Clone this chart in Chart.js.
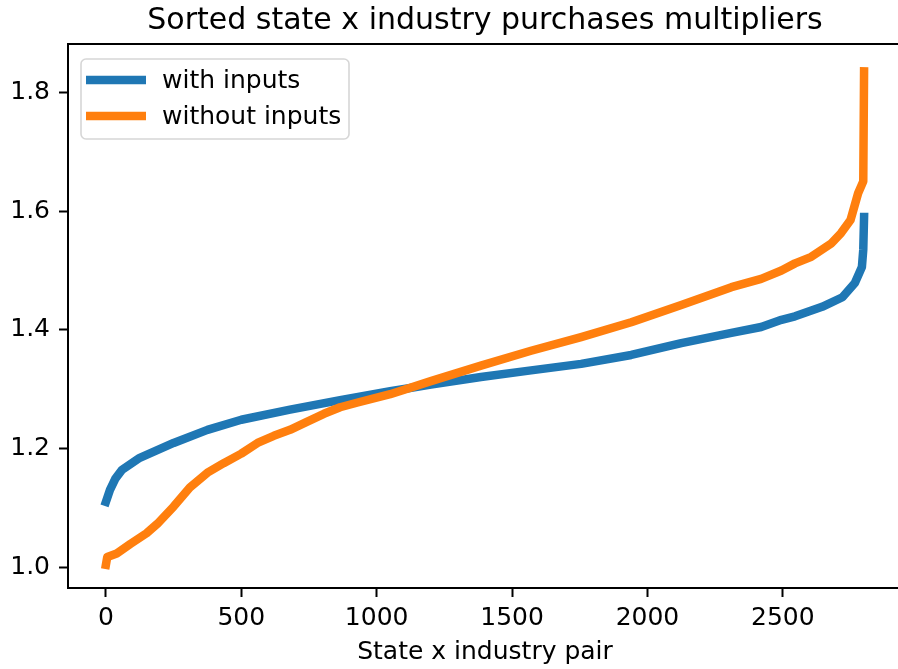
<!DOCTYPE html>
<html>
<head>
<meta charset="utf-8">
<script src="https://cdn.jsdelivr.net/npm/chart.js@4/dist/chart.umd.min.js"></script>
<style>
    html, body { margin: 0; padding: 0; background: #fff; overflow: hidden; }
    #wrap { width: 898px; height: 669px; overflow: hidden; }
</style>
</head>
<body>
<div id="wrap"><canvas id="chart" width="912" height="669"></canvas></div>
<script>
const TITLE = "Sorted state x industry purchases multipliers";
const X_LABEL = "State x industry pair";
const SERIES_NAMES = ["with inputs", "without inputs"];
const X_TICKS = [0, 500, 1000, 1500, 2000, 2500];
const Y_TICKS = [1.0, 1.2, 1.4, 1.6, 1.8];

// sorted multipliers (index -> value)
const withIdx = [0, 15, 35, 60, 125, 250, 375, 500, 680, 865, 1050, 1200, 1385, 1570, 1755, 1940, 2125, 2310, 2420, 2495, 2545, 2645, 2720, 2766, 2792, 2797, 2800];
const withVals = [1.111, 1.131, 1.150, 1.165, 1.185, 1.210, 1.232, 1.249, 1.266, 1.282, 1.297, 1.308, 1.321, 1.332, 1.343, 1.358, 1.378, 1.395, 1.405, 1.417, 1.423, 1.439, 1.455, 1.479, 1.506, 1.535, 1.590];

const withoutIdx = [0, 5, 40, 90, 150, 190, 250, 310, 375, 435, 500, 560, 620, 680, 740, 805, 865, 930, 1050, 1200, 1385, 1570, 1755, 1940, 2125, 2310, 2420, 2495, 2545, 2605, 2680, 2715, 2750, 2778, 2797, 2800];
const withoutVals = [1.005, 1.018, 1.024, 1.040, 1.058, 1.074, 1.103, 1.135, 1.160, 1.176, 1.192, 1.210, 1.222, 1.232, 1.245, 1.259, 1.270, 1.278, 1.292, 1.314, 1.340, 1.365, 1.388, 1.413, 1.442, 1.472, 1.486, 1.500, 1.512, 1.523, 1.546, 1.563, 1.585, 1.630, 1.650, 1.835];

const BLUE = "#1f77b4";
const ORANGE = "#ff7f0e";
const FONT = "'DejaVu Sans', sans-serif";
const LINE_W = 8.5;

function toPoints(xs, ys) {
    return xs.map((x, i) => ({x: x, y: ys[i]}));
}

// chart title centred over the axes (the axes run a little past the window)
const titlePlugin = {
    id: "axesTitle",
    afterDraw(chart) {
        const {ctx, chartArea} = chart;
        ctx.save();
        ctx.fillStyle = "#000";
        ctx.font = "30px " + FONT;
        ctx.textAlign = "center";
        ctx.textBaseline = "middle";
        ctx.fillText(TITLE, (chartArea.left + 902) / 2, 21);
        ctx.restore();
    },
};

// top/right spines
const framePlugin = {
    id: "frame",
    afterDraw(chart) {
        const {ctx, chartArea} = chart;
        ctx.save();
        ctx.strokeStyle = "#000";
        ctx.lineWidth = 2;
        ctx.strokeRect(chartArea.left, chartArea.top, chartArea.right - chartArea.left, chartArea.bottom - chartArea.top);
        ctx.restore();
    },
};

// legend box inside the axes, upper left
const legendPlugin = {
    id: "innerLegend",
    afterDraw(chart) {
        const ctx = chart.ctx;
        const x = 81, y = 59, w = 268, h = 80, r = 5;
        ctx.save();
        ctx.beginPath();
        ctx.roundRect(x, y, w, h, r);
        ctx.fillStyle = "rgba(255,255,255,0.8)";
        ctx.fill();
        ctx.strokeStyle = "rgba(204,204,204,0.8)";
        ctx.lineWidth = 1.6;
        ctx.stroke();

        const colors = [BLUE, ORANGE];
        const rows = [80, 116];
        ctx.font = "25px " + FONT;
        ctx.textBaseline = "middle";
        rows.forEach((ry, i) => {
            ctx.beginPath();
            ctx.moveTo(86, ry);
            ctx.lineTo(146, ry);
            ctx.strokeStyle = colors[i];
            ctx.lineWidth = LINE_W;
            ctx.lineCap = "butt";
            ctx.stroke();
            ctx.fillStyle = "#000";
            ctx.fillText(SERIES_NAMES[i], 162, ry + 1);
        });
        ctx.restore();
    },
};

function lineSet(label, xs, ys, color, order) {
    return {
        label: label,
        data: toPoints(xs, ys),
        borderColor: color,
        backgroundColor: color,
        borderWidth: LINE_W,
        borderCapStyle: "square",
        borderJoinStyle: "round",
        pointRadius: 0,
        tension: 0,
        order: order,
    };
}

const axisGrid = {drawOnChartArea: false, drawTicks: true, tickLength: 9, tickWidth: 2, tickColor: "#000"};
const axisBorder = {display: true, color: "#000", width: 2};

const ctx = document.getElementById("chart").getContext("2d");
new Chart(ctx, {
    type: "line",
    data: {
        datasets: [
            lineSet(SERIES_NAMES[0], withIdx, withVals, BLUE, 2),
            lineSet(SERIES_NAMES[1], withoutIdx, withoutVals, ORANGE, 1),
        ],
    },
    options: {
        responsive: false,
        animation: false,
        devicePixelRatio: 1,
        layout: {padding: {top: 44, right: 0, left: 0, bottom: 0}},
        plugins: {
            legend: {display: false},
            title: {display: false},
            tooltip: {enabled: false},
        },
        scales: {
            x: {
                type: "linear",
                min: -140,
                max: 2977,
                afterBuildTicks: (scale) => { scale.ticks = X_TICKS.map((v) => ({value: v})); },
                afterFit: (scale) => { scale.height = 81; },
                grid: axisGrid,
                border: axisBorder,
                ticks: {
                    autoSkip: false,
                    maxRotation: 0,
                    padding: 6,
                    color: "#000",
                    font: {family: FONT, size: 25},
                    callback: (v) => String(v),
                },
                title: {
                    display: false,
                },
            },
            y: {
                type: "linear",
                min: 0.966,
                max: 1.881,
                afterBuildTicks: (scale) => { scale.ticks = Y_TICKS.map((v) => ({value: v})); },
                afterFit: (scale) => { scale.width = 68; },
                grid: axisGrid,
                border: axisBorder,
                ticks: {
                    autoSkip: false,
                    padding: 9,
                    color: "#000",
                    font: {family: FONT, size: 25},
                    callback: (v) => v.toFixed(1),
                },
            },
        },
    },
    plugins: [titlePlugin, framePlugin, legendPlugin, {
        // x-axis label centred under the visible axes
        id: "xLabel",
        afterDraw(chart) {
            const c = chart.ctx;
            c.save();
            c.fillStyle = "#000";
            c.font = "25px " + FONT;
            c.textAlign = "center";
            c.textBaseline = "middle";
            c.fillText(X_LABEL, (chart.chartArea.left + 902) / 2, 652);
            c.restore();
        },
    }],
});
</script>
</body>
</html>
